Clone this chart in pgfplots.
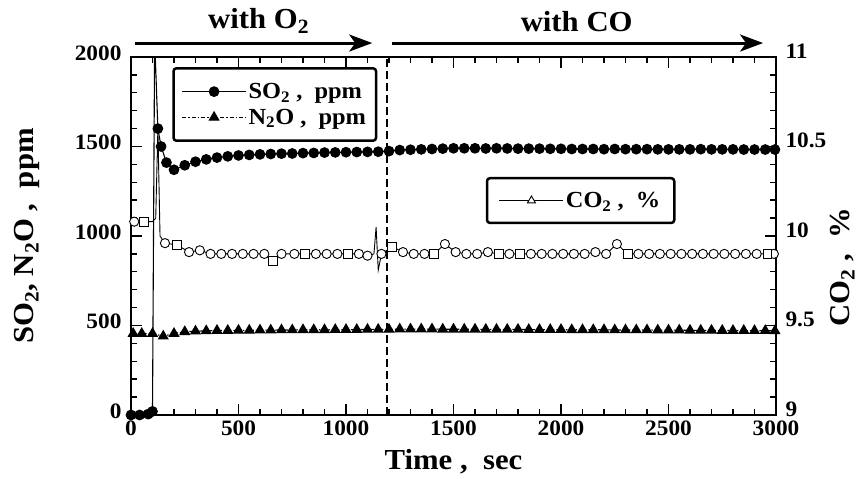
\documentclass[border=0pt]{standalone}
\usepackage{fontspec}
\setmainfont{Liberation Serif}[FakeStretch=1.06]
\usepackage{pgfplots}
\usepackage{pgfplotstable}
\pgfplotsset{compat=1.18}
\usetikzlibrary{arrows.meta}

\pgfplotstableread{
t y
0 0
40 0
80 5
100 20
110 2100
125 1600
140 1500
165 1410
200 1370
250 1395
300 1415
350 1428
400 1438
450 1445
500 1450
550 1453
600 1456
650 1458
700 1460
750 1461
800 1463
850 1464
900 1466
950 1467
1000 1468
1050 1469
1100 1470
1150 1471
1200 1474
1250 1480
1300 1482
1350 1484
1400 1486
1450 1488
1500 1490
1550 1490
1600 1490
1650 1489
1700 1490
1750 1489
1800 1488
1850 1488
1900 1488
1950 1487
2000 1487
2050 1486
2100 1486
2150 1486
2200 1485
2250 1486
2300 1485
2350 1485
2400 1485
2450 1484
2500 1484
2550 1484
2600 1484
2650 1485
2700 1484
2750 1484
2800 1484
2850 1483
2900 1483
2950 1483
2995 1483
}\sotwo

\pgfplotstableread{
t y
10 455
50 455
100 455
150 440
200 455
250 465
300 468
350 470
400 472
450 472
500 473
550 473
600 474
650 474
700 475
750 475
800 476
850 476
900 476
950 477
1000 477
1050 477
1100 478
1150 478
1200 478
1250 480
1300 480
1350 480
1400 480
1450 479
1500 479
1550 479
1600 479
1650 478
1700 478
1750 478
1800 478
1850 477
1900 477
1950 477
2000 477
2050 476
2100 476
2150 476
2200 476
2250 475
2300 475
2350 475
2400 475
2450 474
2500 474
2550 474
2600 473
2650 473
2700 473
2750 472
2800 472
2850 472
2900 471
2950 471
2995 470
}\ntwoo

\pgfplotstableread{
t y
15 10.08
60 10.08
100 10.08
115 10.10
125 10.60
135 10.00
158 9.96
215 9.95
270 9.91
320 9.92
370 9.90
420 9.90
470 9.90
520 9.90
570 9.90
620 9.90
660 9.86
700 9.90
760 9.90
810 9.90
860 9.90
910 9.90
960 9.90
1010 9.90
1060 9.90
1100 9.89
1130 9.90
1140 10.05
1150 9.81
1165 9.90
1215 9.94
1265 9.91
1315 9.90
1365 9.90
1410 9.90
1460 9.955
1510 9.91
1560 9.90
1610 9.90
1660 9.91
1710 9.90
1760 9.90
1810 9.90
1860 9.90
1910 9.90
1960 9.90
2010 9.90
2060 9.90
2110 9.90
2160 9.91
2210 9.90
2260 9.955
2310 9.90
2360 9.90
2410 9.90
2460 9.90
2510 9.90
2560 9.90
2610 9.90
2660 9.90
2710 9.90
2760 9.90
2810 9.90
2860 9.90
2910 9.90
2960 9.90
2990 9.90
}\cotwoline

\pgfplotstableread{
t y
15 10.08
158 9.96
270 9.91
320 9.92
370 9.90
420 9.90
470 9.90
520 9.90
570 9.90
620 9.90
700 9.90
760 9.90
860 9.90
910 9.90
960 9.90
1060 9.90
1100 9.89
1165 9.90
1265 9.91
1315 9.90
1365 9.90
1460 9.955
1510 9.91
1560 9.90
1610 9.90
1660 9.91
1760 9.90
1860 9.90
1910 9.90
1960 9.90
2010 9.90
2060 9.90
2110 9.90
2160 9.91
2210 9.90
2260 9.955
2360 9.90
2410 9.90
2460 9.90
2510 9.90
2560 9.90
2610 9.90
2660 9.90
2710 9.90
2760 9.90
2810 9.90
2860 9.90
2910 9.90
2990 9.90
}\cotwocirc

\pgfplotstableread{
t y
60 10.08
215 9.95
660 9.86
810 9.90
1010 9.90
1215 9.94
1410 9.90
1710 9.90
1810 9.90
2310 9.90
2960 9.90
}\cotwosq

\pgfplotsset{
  common/.style={
    at={(131pt,64pt)}, anchor=south west, scale only axis,
    width=645pt, height=358pt,
    xmin=0, xmax=3000,
    tick align=inside,
    major tick length=11pt, minor tick length=6pt,
    every tick/.style={line width=1.4pt, black},
    axis line style={line width=2.5pt},
    clip mode=individual,
    /pgf/number format/assume math mode=true,
    /pgf/number format/set thousands separator={},
    ticklabel style={font=\fontsize{22}{22}\selectfont\bfseries},
    label style={font=\fontsize{29}{29}\selectfont\bfseries},
    legend cell align=left,
    legend image code/.code={\draw[mark repeat=2,mark phase=2,##1] plot coordinates {(0pt,0pt) (32pt,0pt) (64pt,0pt)};},
  }
}

\begin{document}
\begin{tikzpicture}
\useasboundingbox (0,0) rectangle (863pt,479pt);
\begin{axis}[common,
  ymin=0, ymax=2000,
  xtick={0,500,...,3000}, ytick={0,500,1000,1500,2000},
  minor x tick num=4, minor y tick num=4,
  ytick pos=left, xtick pos=both,
  xlabel={Time ,\ \ sec},
  ylabel={SO\textsubscript{2}, N\textsubscript{2}O ,\ \ ppm},
  xticklabel style={yshift=-2pt},
  yticklabel style={xshift=-6pt, yshift=4pt},
  xlabel style={at={(rel axis cs:0.5,-0.13)}, anchor=center},
  ylabel style={at={(rel axis cs:-0.161,0.5)}, anchor=center},
  legend style={at={(0.064,0.972)}, anchor=north west, draw=black,
    line width=2.5pt, rounded corners=3pt,
    font=\fontsize{23}{23}\selectfont\bfseries,
    inner xsep=8pt, inner ysep=13pt, row sep=5pt},
]
\addplot[black, line width=1.1pt, mark=*, mark size=4.8pt, mark options={solid}] table {\sotwo};
\addlegendentry{SO\textsubscript{2} ,\ \ ppm}
\addplot[black, line width=1.1pt, dash pattern=on 4pt off 2pt on 1.5pt off 2pt, mark=triangle*, mark size=5.4pt, mark options={solid}] table {\ntwoo};
\addlegendentry{N\textsubscript{2}O ,\ \ ppm}
\addplot[black, line width=1.5pt, dash pattern=on 8pt off 4pt, forget plot] coordinates {(1190,0) (1190,2000)};
\draw[line width=3pt, -{Stealth[length=23pt,width=17pt,inset=6pt]}] (rel axis cs:0.006,1.039) -- (rel axis cs:0.374,1.039);
\draw[line width=3pt, -{Stealth[length=23pt,width=17pt,inset=6pt]}] (rel axis cs:0.405,1.039) -- (rel axis cs:0.980,1.039);
\node[font=\fontsize{29}{29}\selectfont\bfseries] at (rel axis cs:0.198,1.100) {with O\textsubscript{2}};
\node[font=\fontsize{29}{29}\selectfont\bfseries] at (rel axis cs:0.691,1.100) {with CO};
\end{axis}
\begin{axis}[common,
  ymin=9, ymax=11,
  axis x line=none, axis y line*=right,
  ytick={9,9.5,10,10.5,11}, minor y tick num=4,
  ylabel={CO\textsubscript{2} ,\ \ \%},
  yticklabel style={xshift=6pt, yshift=6pt},
  ylabel style={at={(rel axis cs:1.103,0.413)}, anchor=center},
  legend style={at={(0.55,0.665)}, anchor=north west, draw=black,
    line width=2.5pt, rounded corners=3pt,
    font=\fontsize{23}{23}\selectfont\bfseries,
    inner xsep=12pt, inner ysep=12pt},
]
\addplot[black, line width=0.9pt, forget plot] table {\cotwoline};
\addplot[only marks, black, line width=0.9pt, mark=*, mark size=4.6pt, mark options={fill=white}, forget plot] table {\cotwocirc};
\addplot[only marks, black, line width=0.9pt, mark=square*, mark size=4.3pt, mark options={fill=white}, forget plot] table {\cotwosq};
\addlegendimage{black, line width=0.9pt, mark=triangle*, mark size=4.6pt, mark options={fill=white}}
\addlegendentry{CO\textsubscript{2} ,\ \ \%}
\end{axis}
\end{tikzpicture}
\end{document}
